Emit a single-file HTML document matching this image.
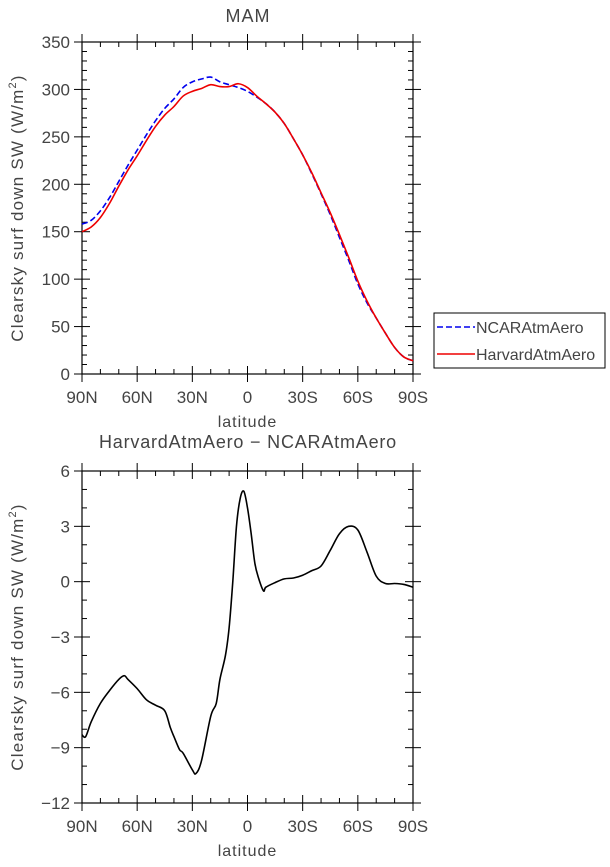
<!DOCTYPE html>
<html><head><meta charset="utf-8"><style>
body{margin:0;background:#fff;width:610px;height:862px;overflow:hidden}
svg text{font-family:"Liberation Sans",sans-serif;fill:#444}
</style></head><body>
<svg id="s" width="610" height="862"></svg>
<script>
const latTicks=[90,60,30,0,-30,-60,-90];
const latLabels=["90N","60N","30N","0","30S","60S","90S"];
const topLat=[90,85,80,75,70,65,60,55,50,45,40,35,30,25,20,15,10,5,0,-5,-10,-15,-20,-25,-30,-35,-40,-45,-50,-55,-60,-65,-70,-75,-80,-85,-90];
const harvard=[150,155,165,180,198,215,230,246,261,273,282,293,298,301,305,303,303,306,302,293,285,276,264,248,231,212,191,170,147,123,98,77,59,43,28,18,14];
const ncar=[158,162,172,186,203,220,236,252,267,280,290,302,308,311,313,308,305,302,298,292,285,276,264,248,231,211,190,168,144,120,95,75,59,43,28,18,14];
const topYTicks=[0,50,100,150,200,250,300,350];
const diffLat=[90,88,85,80,75,70,67,65,60,55,50,45,42,40,37,35,30,28,25,20,17,15,12,10,8,6,4,2,0,-2,-4,-6,-8.7,-10,-15,-20,-25,-30,-35,-40,-45,-50,-55,-60,-65,-70,-75,-80,-85,-90];
const diffVal=[-8.3,-8.4,-7.6,-6.6,-5.9,-5.3,-5.1,-5.3,-5.8,-6.4,-6.7,-7.0,-7.9,-8.4,-9.1,-9.3,-10.2,-10.4,-9.7,-7.3,-6.6,-5.3,-4.0,-2.5,0,3.0,4.5,4.9,4.0,2.6,1.0,0.2,-0.5,-0.3,-0.05,0.15,0.2,0.35,0.6,0.85,1.7,2.6,3.0,2.8,1.6,0.3,-0.1,-0.1,-0.15,-0.3];
const botYTicks=[-12,-9,-6,-3,0,3,6];
const botYLabels=["\u221212","\u22129","\u22126","\u22123","0","3","6"];

const svg=document.getElementById('s');const NS='http://www.w3.org/2000/svg';
function mk(t,a,p){const e=document.createElementNS(NS,t);for(const k in a)e.setAttribute(k,a[k]);(p||svg).appendChild(e);return e;}
const L=82,R=413;
const xs=v=>L+(90-v)/180*(R-L);
function panel(top,bot,ymin,ymax,minorStep,yT,yL,name){
  const g=mk('g',{});
  
  
  const ys=v=>bot-(v-ymin)/(ymax-ymin)*(bot-top);
  mk('rect',{x:L,y:top,width:R-L,height:bot-top,fill:'none',stroke:'#000','stroke-width':1.2},g);
  for(let v=ymin;v<=ymax+1e-6;v+=minorStep){const y=ys(v);const maj=yT.some(t=>Math.abs(t-v)<1e-6);
    if(maj){mk('line',{x1:L-8,x2:L+8,y1:y,y2:y,stroke:'#000'},g);mk('line',{x1:R-8,x2:R+8,y1:y,y2:y,stroke:'#000'},g);}
    else{mk('line',{x1:L,x2:L+5,y1:y,y2:y,stroke:'#000'},g);mk('line',{x1:R-5,x2:R,y1:y,y2:y,stroke:'#000'},g);}}
  for(let v=90;v>=-90;v-=10){const x=xs(v);const maj=v%30==0;
    if(maj){mk('line',{x1:x,x2:x,y1:top-8,y2:top+8,stroke:'#000'},g);mk('line',{x1:x,x2:x,y1:bot-8,y2:bot+8,stroke:'#000'},g);}
    else{mk('line',{x1:x,x2:x,y1:top,y2:top+5,stroke:'#000'},g);mk('line',{x1:x,x2:x,y1:bot-5,y2:bot,stroke:'#000'},g);}}
  yT.forEach((v,i)=>{const t=mk('text',{x:L-12,y:ys(v)+6,'text-anchor':'end','font-size':17},g);t.textContent=yL[i];
    });
  latTicks.forEach((v,i)=>{const t=mk('text',{x:xs(v),y:bot+29,'text-anchor':'middle','font-size':17},g);t.textContent=latLabels[i];
    });
  const xt=mk('text',{x:(L+R)/2,y:bot+53,'text-anchor':'middle','font-size':16,'letter-spacing':1},g);xt.textContent='latitude';
  
  const yt=mk('text',{x:0,y:0,'text-anchor':'middle','font-size':17,'letter-spacing':1.2,transform:`translate(23,${(top+bot)/2}) rotate(-90)`},g);
  yt.innerHTML='Clearsky surf down SW (W/m<tspan dy="-7" font-size="11">2</tspan><tspan dy="7">)</tspan>';
  
  return ys;
}
const ys1=panel(42,374,0,350,10,topYTicks,topYTicks.map(String),'top-panel');
const ys2=panel(471,803,-12,6,1,botYTicks,botYLabels,'bottom-panel');
function line(lat,val,ys,col,dash){
  const P=lat.map((v,i)=>[xs(v),ys(val[i])]);
  let d='M'+P[0][0]+','+P[0][1];
  for(let i=0;i<P.length-1;i++){const p0=P[Math.max(0,i-1)],p1=P[i],p2=P[i+1],p3=P[Math.min(P.length-1,i+2)];
    const c1=[p1[0]+(p2[0]-p0[0])/6,p1[1]+(p2[1]-p0[1])/6],c2=[p2[0]-(p3[0]-p1[0])/6,p2[1]-(p3[1]-p1[1])/6];
    d+=` C${c1[0]},${c1[1]} ${c2[0]},${c2[1]} ${p2[0]},${p2[1]}`;}
  const p=mk('path',{d:d,fill:'none',stroke:col,'stroke-width':1.6,'stroke-linejoin':'round'});
  if(dash)p.setAttribute('stroke-dasharray',dash);return p;}
const pn=line(topLat,ncar,ys1,'#0000ee','6,3');

const ph=line(topLat,harvard,ys1,'#ee0000',null);

const pd=line(diffLat,diffVal,ys2,'#000',null);

let t=mk('text',{x:248,y:22,'text-anchor':'middle','font-size':18,'letter-spacing':1});t.textContent='MAM';

t=mk('text',{x:248,y:448,'text-anchor':'middle','font-size':18,'letter-spacing':0.8});t.textContent='HarvardAtmAero \u2212 NCARAtmAero';

const lg=mk('g',{});

mk('rect',{x:434,y:313,width:171,height:55,fill:'#fff',stroke:'#000'},lg);
mk('line',{x1:437,x2:475,y1:327,y2:327,stroke:'#0000ee','stroke-width':1.6,'stroke-dasharray':'6,3'},lg);
mk('line',{x1:437,x2:475,y1:354,y2:354,stroke:'#ee0000','stroke-width':1.6},lg);
t=mk('text',{x:476,y:333,'font-size':16});t.textContent='NCARAtmAero';lg.appendChild(t);

t=mk('text',{x:476,y:360,'font-size':16});t.textContent='HarvardAtmAero';lg.appendChild(t);

</script>
</body></html>
